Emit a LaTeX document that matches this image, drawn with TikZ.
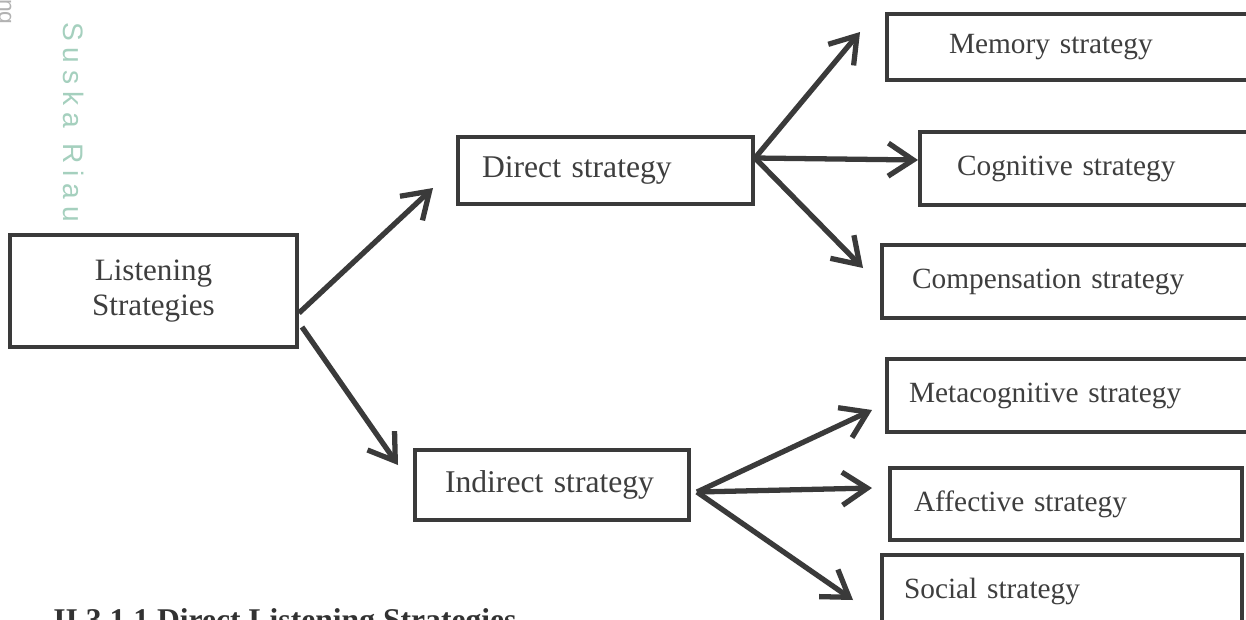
\documentclass[tikz,border=0pt]{standalone}
\usepackage{fontspec}
\setmainfont{Liberation Serif}
\newfontfamily\wmfont[LetterSpace=25]{Liberation Sans}
\newfontfamily\wmplain{Liberation Sans}
\usetikzlibrary{arrows.meta,positioning}
\definecolor{boxline}{RGB}{58,58,58}
\definecolor{txt}{RGB}{62,62,62}
\definecolor{wmteal}{RGB}{165,208,190}

\begin{document}
\begin{tikzpicture}[x=0.02cm, y=-0.02cm,
  root/.style={draw=boxline, line width=2.3pt, minimum width=5.74cm, minimum height=2.24cm, align=center, text=txt, font=\fontsize{17.7}{20}\selectfont},
  leaf/.style 2 args={draw=boxline, line width=2.3pt, anchor=west, inner xsep=#1, text width=#2, inner ysep=0pt, minimum height=1.44cm, align=left, text=txt, font=\fontsize{16.7}{20}\selectfont},
  mid/.style={font=\fontsize{18}{20}\selectfont},
  arr/.style={-{Straight Barb[length=0.5cm, width=0.66cm]}, line width=3pt, draw=boxline}]
\useasboundingbox (0,0) rectangle (1246,619);
\clip (0,0) rectangle (1246,619);
\fill[white] (0,0) rectangle (1246,619);
% watermark
\node[rotate=-90, text=gray!60, font=\wmplain\fontsize{13}{14}\selectfont, inner sep=0pt] (wmcut) at (3,12) {ng};
\node[rotate=-90, text=wmteal, font=\wmfont\fontsize{16}{18}\selectfont, inner sep=0pt] (wm) at (73.5,122) {Suska Riau};
% Listening strategies
\node[root] (ls) at (153.5,291) {Listening\\Strategies};
% Direct / indirect
\node[leaf={0.48cm}{4.94cm}, mid, minimum height=1.34cm] (ds) at (456,170.5) {Direct strategy};
\node[leaf={0.6cm}{4.28cm}, mid, minimum height=1.4cm] (ind) at (413,485) {Indirect strategy};
\draw[arr] ([yshift=-0.44cm]ls.east) -- ([xshift=-0.46cm, yshift=-0.35cm]ds.west);
\draw[arr] ([xshift=0.06cm, yshift=-0.72cm]ls.east) -- ([xshift=-0.3cm, yshift=0.4cm]ind.west);
% Direct branches
\node[leaf={1.24cm}{5.82cm}, minimum height=1.32cm] (mem) at (885,47) {Memory strategy};
\node[leaf={0.74cm}{6.16cm}, minimum height=1.46cm] (cog) at (918,168.5) {Cognitive strategy};
\node[leaf={0.6cm}{7.2cm}, minimum height=1.46cm] (comp) at (880,281.5) {Compensation strategy};
\draw[arr] ([yshift=0.25cm]ds.east) -- ([xshift=-0.5cm, yshift=0.3cm]mem.west);
\draw[arr] ([yshift=0.25cm]ds.east) -- ([yshift=0.17cm]cog.west);
\draw[arr] ([yshift=0.25cm]ds.east) -- ([xshift=-0.34cm, yshift=0.27cm]comp.west);
% Indirect branches
\node[leaf={0.44cm}{7.42cm}, minimum height=1.46cm] (meta) at (885,395.5) {Metacognitive strategy};
\node[leaf={0.48cm}{6.08cm}] (aff) at (888,504) {Affective strategy};
\node[leaf={0.44cm}{6.32cm}] (soc) at (880,591) {Social strategy};
\draw[arr] ([xshift=0.12cm, yshift=-0.14cm]ind.east) -- ([xshift=-0.26cm, yshift=-0.29cm]meta.west);
\draw[arr] ([xshift=0.12cm, yshift=-0.14cm]ind.east) -- ([xshift=-0.32cm, yshift=0.32cm]aff.west);
\draw[arr] ([xshift=0.12cm, yshift=-0.14cm]ind.east) -- ([xshift=-0.54cm, yshift=-0.18cm]soc.west);
% heading
\node[anchor=base west, inner sep=0pt, text=txt!80!black, font=\bfseries\fontsize{18}{22}\selectfont] (head) at (53,630) {II.3.1.1 Direct Listening Strategies};
\end{tikzpicture}
\end{document}
